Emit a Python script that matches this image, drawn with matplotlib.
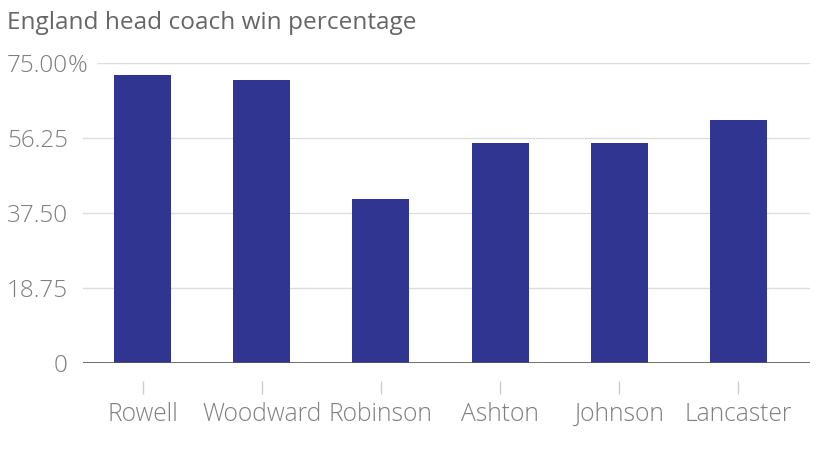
import matplotlib
matplotlib.use('Agg')
import matplotlib.pyplot as plt
import matplotlib.transforms as mtransforms
import numpy as np

coaches = ['Rowell', 'Woodward', 'Robinson', 'Ashton', 'Johnson', 'Lancaster']
win_pct = [71.9, 70.8, 40.9, 54.9, 54.9, 60.8]
yticks = [0, 18.75, 37.5, 56.25, 75]
ylabels = ['0', '18.75', '37.50', '56.25', '75.00']

plt.rcParams['font.family'] = ['Open Sans', 'DejaVu Sans']
plt.rcParams['font.weight'] = 'light'
grey = '#7f7f7f'

fig = plt.figure(figsize=(8.39, 4.72), dpi=100)
ax = fig.add_axes([0.0989, 0.2309, 0.8665, 0.6362])

x = np.arange(len(coaches))
ax.bar(x, win_pct, width=0.478, color='#303592', zorder=3)
ax.axhline(0, color='#555555', lw=1.2, zorder=4)

ax.set_ylim(0, 75)
ax.set_xlim(-0.5, 5.6)
ax.tick_params(axis='y', length=0, pad=10.8, labelsize=17.5, labelcolor=grey)
ax.set_yticks(yticks)
ax.set_yticklabels(ylabels, fontweight='light')
# gridlines, the top one starts after its wider label
for t in yticks[1:]:
    ax.axhline(t, xmin=0.0206 if t == 75 else 0, color='#dddddd', lw=1, zorder=0)
ax.set_xticks(x)
ax.set_xticklabels([])
ax.tick_params(axis='x', length=9.4, width=1, color='#cccccc')
for s in ['top', 'right', 'left']:
    ax.spines[s].set_visible(False)
ax.spines['bottom'].set_position(('outward', 13))
ax.spines['bottom'].set_visible(False)

# category labels on a common baseline
trans = mtransforms.blended_transform_factory(ax.transData, fig.transFigure)
for xi, name in zip(x, coaches):
    ax.text(xi, 1 - 421 / 472, name, transform=trans, fontsize=17.7,
            fontweight='light', color=grey, ha='center', va='baseline')

# percent sign hanging after the top label
fig.canvas.draw()
top_lab = ax.get_yticklabels()[-1]
bb = top_lab.get_window_extent()
fig.text(bb.x1 / fig.dpi / 8.39, (bb.y0 + bb.y1) / 2 / fig.dpi / 4.72, '%',
         fontsize=17.5, fontweight='light', color=grey, ha='left', va='center')

fig.text(0.0083, 1 - 29 / 472, 'England head coach win percentage', fontsize=17.6,
         fontweight='normal', color='#666666', ha='left', va='baseline')

fig.savefig('out.png', dpi=100)
